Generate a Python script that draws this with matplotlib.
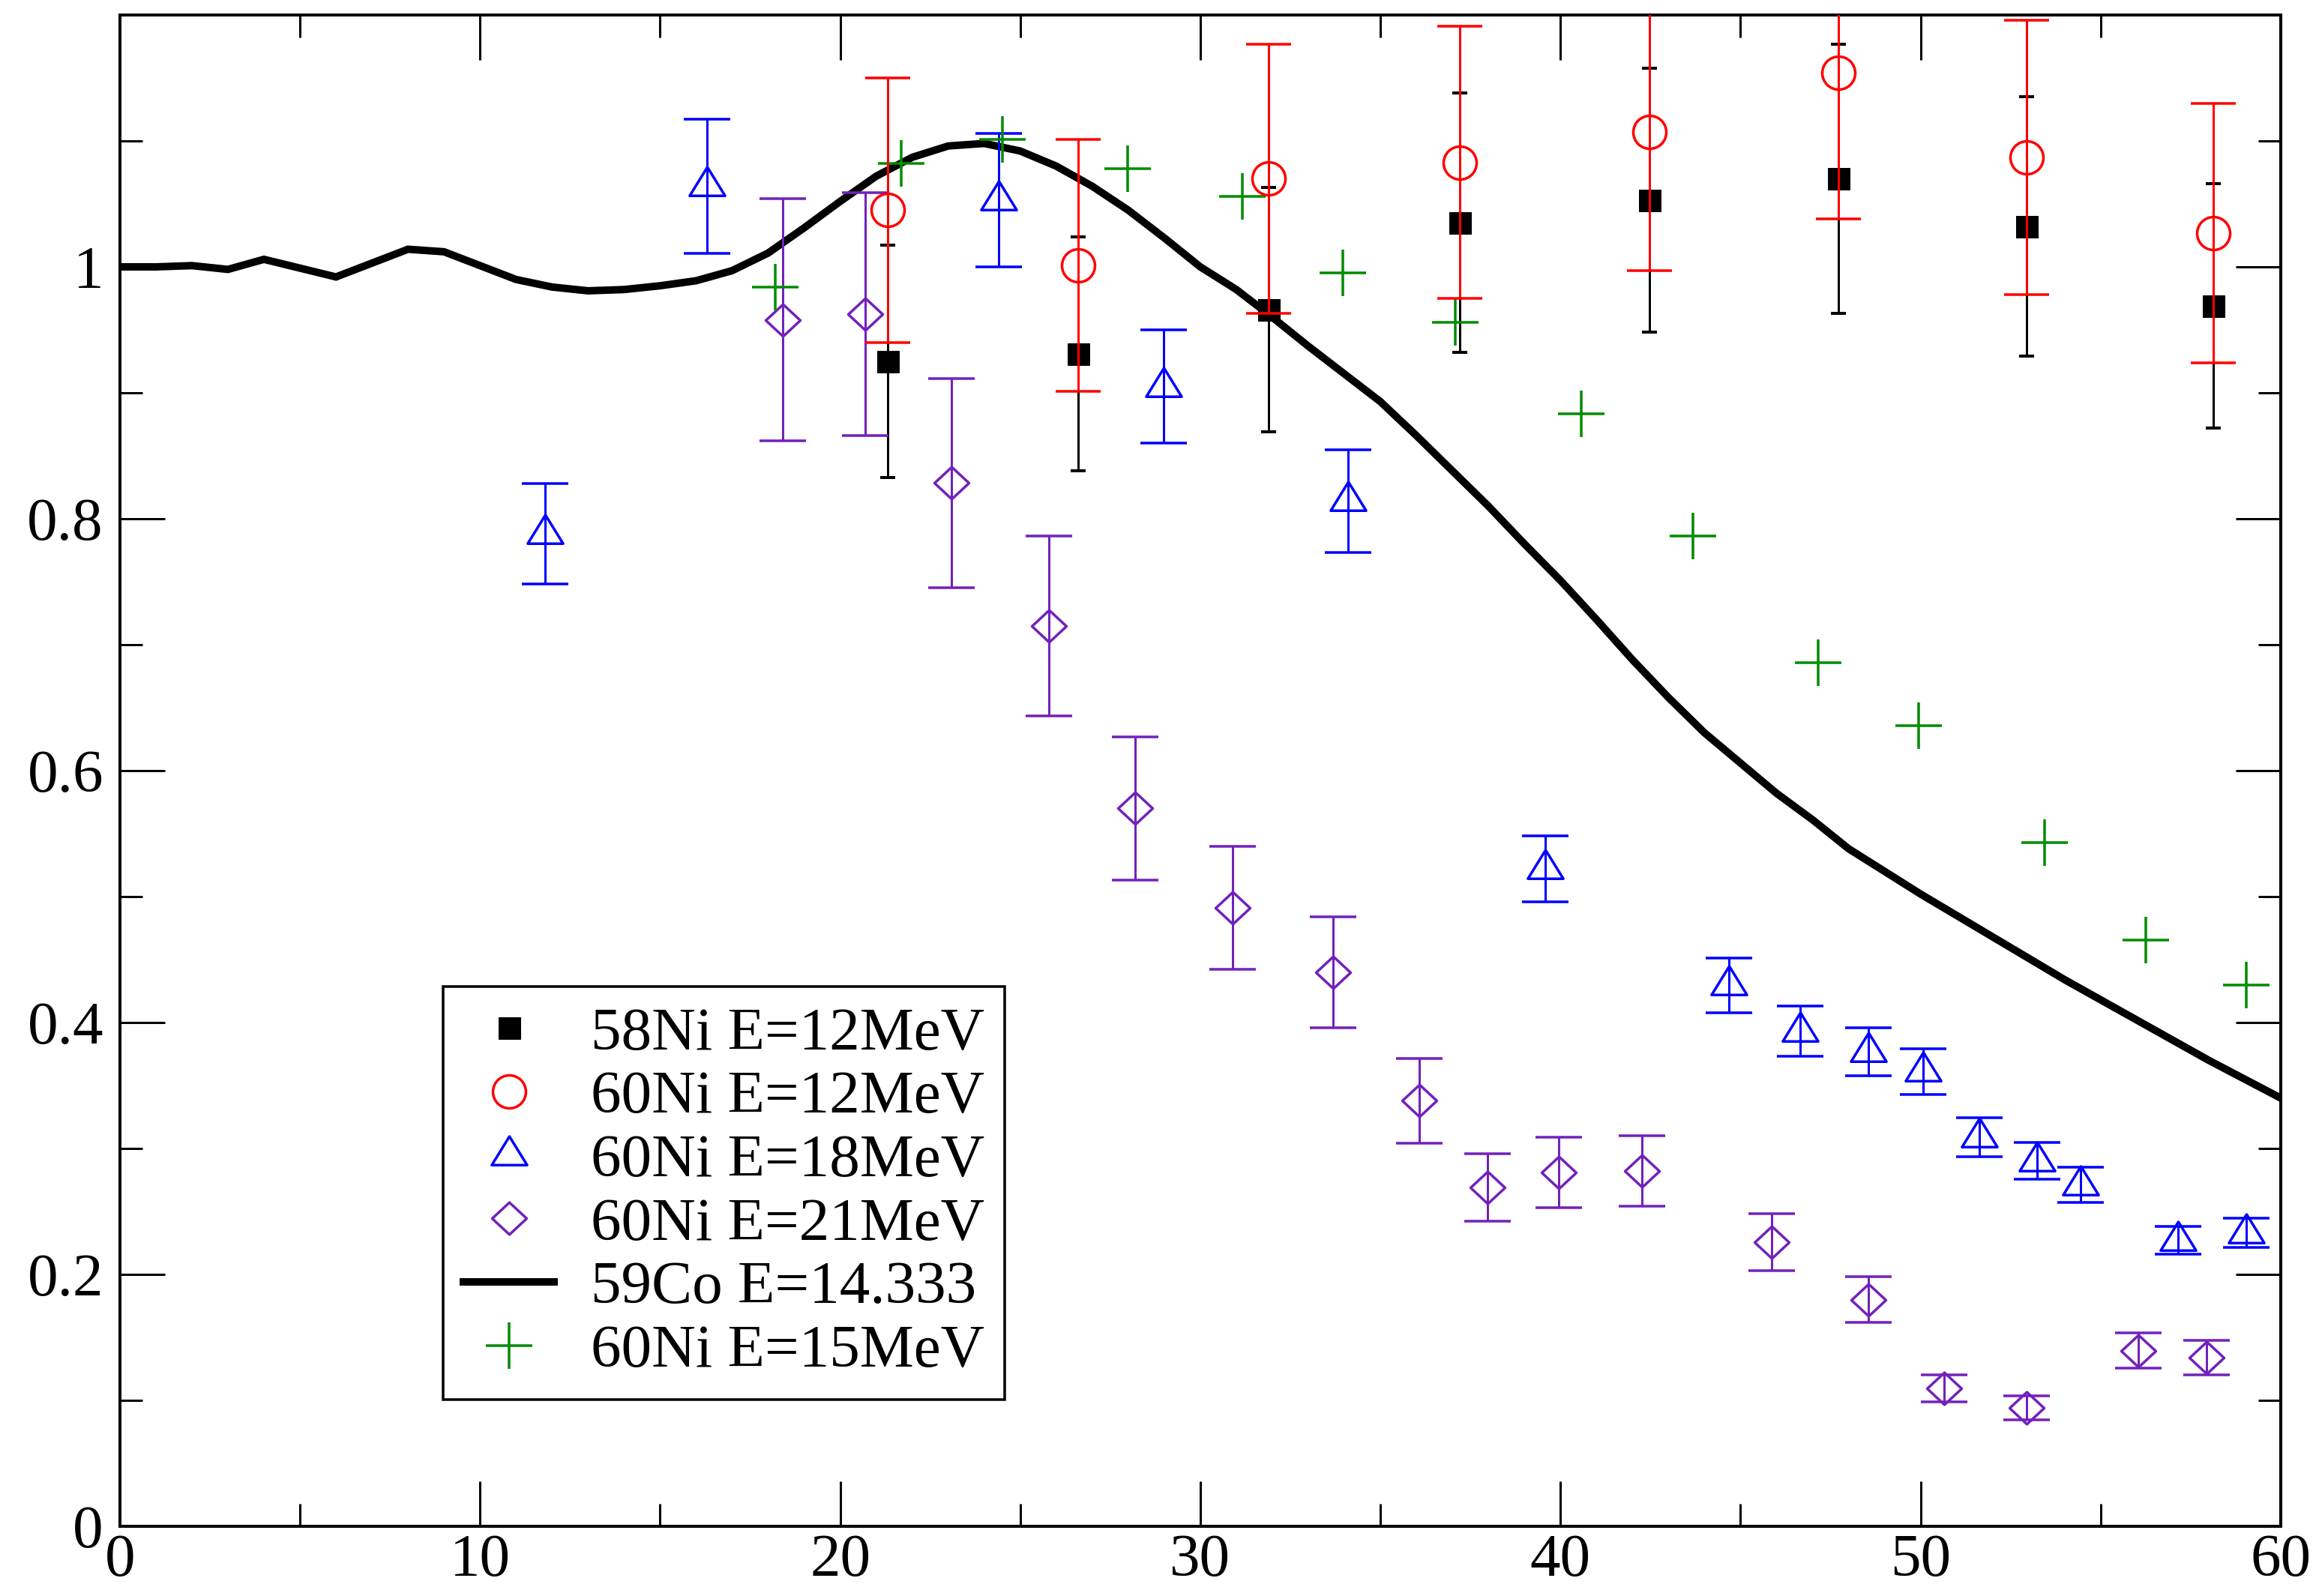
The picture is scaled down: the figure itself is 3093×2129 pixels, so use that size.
import matplotlib
matplotlib.use("Agg")
import matplotlib.pyplot as plt
from matplotlib.path import Path
from matplotlib.ticker import MultipleLocator

# 58Ni E=12MeV and 60Ni E=12MeV share the same angles
ni12_x = [21.33, 26.6, 31.9, 37.2, 42.47, 47.72, 52.94, 58.13]
ni58_y = [0.925, 0.931, 0.966, 1.035, 1.053, 1.070, 1.032, 0.969]
ni58_err = [0.092, 0.093, 0.097, 0.103, 0.105, 0.107, 0.103, 0.097]
ni60_12_y = [1.045, 1.001, 1.070, 1.083, 1.107, 1.154, 1.087, 1.027]
ni60_12_err = [0.105, 0.100, 0.107, 0.108, 0.110, 0.116, 0.109, 0.103]

ni60_18_x = [11.81, 16.3, 24.4, 28.98, 34.1, 39.57, 44.68, 46.66, 48.56,
             50.06, 51.64, 53.24, 54.44, 57.15, 59.05]
ni60_18_y = [0.788, 1.064, 1.053, 0.905, 0.814, 0.522, 0.4295, 0.393, 0.377,
             0.361, 0.309, 0.290, 0.271, 0.227, 0.233]
ni60_18_err = [0.040, 0.053, 0.053, 0.045, 0.041, 0.026, 0.0215, 0.020, 0.019,
               0.018, 0.0155, 0.0145, 0.014, 0.011, 0.0115]

ni60_21_x = [18.4, 20.69, 23.09, 25.79, 28.19, 30.89, 33.68, 36.07, 37.97,
             39.96, 42.27, 45.87, 48.56, 50.66, 52.94, 56.04, 57.94]
ni60_21_y = [0.958, 0.9625, 0.8285, 0.715, 0.570, 0.491, 0.440, 0.338, 0.269,
             0.281, 0.282, 0.2255, 0.180, 0.1095, 0.094, 0.1395, 0.134]
ni60_21_err = [0.096, 0.0965, 0.083, 0.0714, 0.057, 0.049, 0.044, 0.0336, 0.027,
               0.028, 0.028, 0.0225, 0.018, 0.011, 0.0095, 0.014, 0.0135]

ni60_15_x = [18.2, 21.7, 24.5, 27.98, 31.16, 33.96, 37.07, 40.57, 43.67,
             47.15, 49.95, 53.44, 56.25, 59.05]
ni60_15_y = [0.984, 1.082, 1.101, 1.078, 1.056, 0.995, 0.956, 0.8835, 0.7864,
             0.686, 0.6355, 0.543, 0.4654, 0.430]

co59_x = list(range(0, 61))
co59_y = [1.000, 1.000, 1.001, 0.998, 1.006, 0.999, 0.992, 1.003, 1.014, 1.012,
          1.001, 0.990, 0.984, 0.981, 0.982, 0.985, 0.989, 0.997, 1.011, 1.031,
          1.052, 1.072, 1.087, 1.096, 1.098, 1.092, 1.080, 1.064, 1.045, 1.023,
          1.000, 0.982, 0.960, 0.937, 0.915, 0.893, 0.866, 0.838, 0.810, 0.780,
          0.751, 0.720, 0.688, 0.658, 0.630, 0.606, 0.582, 0.561, 0.538, 0.520,
          0.502, 0.485, 0.468, 0.451, 0.434, 0.418, 0.402, 0.386, 0.370, 0.355,
          0.340]

RED = "#ff0000"
BLUE = "#0000ff"
PURPLE = "#7221bc"
GREEN = "#008b00"

# xmgrace-like symbols: triangle centred on its centroid, slightly flat diamond
tri = Path([(0, 1.08), (-1, -0.54), (1, -0.54), (0, 1.08)],
           [Path.MOVETO, Path.LINETO, Path.LINETO, Path.CLOSEPOLY])
dia = Path([(0, 0.93), (1, 0), (0, -0.93), (-1, 0), (0, 0.93)],
           [Path.MOVETO, Path.LINETO, Path.LINETO, Path.LINETO, Path.CLOSEPOLY])

plt.rcParams["font.family"] = ["Liberation Serif", "DejaVu Serif"]

fig = plt.figure(figsize=(3093 / 72, 2129 / 72), dpi=72)
ax = fig.add_axes([0.0517, 0.0437, 0.9318, 0.9469])

ax.plot(co59_x, co59_y, color="black", lw=10, solid_joinstyle="miter", zorder=2)

ax.errorbar(ni12_x, ni58_y, yerr=ni58_err, fmt="none", ecolor="black",
            elinewidth=3, capsize=10, capthick=4, zorder=3)
ax.errorbar(ni12_x, ni60_12_y, yerr=ni60_12_err, fmt="none", ecolor=RED,
            elinewidth=3, capsize=30, capthick=3.5, zorder=4)
ax.errorbar(ni60_18_x, ni60_18_y, yerr=ni60_18_err, fmt="none", ecolor=BLUE,
            elinewidth=3, capsize=31, capthick=3.5, zorder=3)
ax.errorbar(ni60_21_x, ni60_21_y, yerr=ni60_21_err, fmt="none", ecolor=PURPLE,
            elinewidth=3, capsize=31, capthick=3.5, zorder=3)

h1, = ax.plot(ni12_x, ni58_y, ls="none", marker="s", ms=29, color="black",
              label="58Ni E=12MeV", zorder=3)
h2, = ax.plot(ni12_x, ni60_12_y, ls="none", marker="o", ms=44, mfc="none",
              mec=RED, mew=3.5, label="60Ni E=12MeV", zorder=4)
h3, = ax.plot(ni60_18_x, ni60_18_y, ls="none", marker=tri, ms=51, mfc="none",
              mec=BLUE, mew=3.5, label="60Ni E=18MeV", zorder=3)
h4, = ax.plot(ni60_21_x, ni60_21_y, ls="none", marker=dia, ms=46, mfc="none",
              mec=PURPLE, mew=3.5, label="60Ni E=21MeV", zorder=3)
h5, = ax.plot([], [], color="black", lw=10, label="59Co E=14.333")
h6, = ax.plot(ni60_15_x, ni60_15_y, ls="none", marker="+", ms=62, mew=3.5,
              color=GREEN, label="60Ni E=15MeV", zorder=3)

ax.set_xlim(0, 60)
ax.set_ylim(0, 1.2)
ax.xaxis.set_major_locator(MultipleLocator(10))
ax.xaxis.set_minor_locator(MultipleLocator(5))
ax.yaxis.set_minor_locator(MultipleLocator(0.1))
ax.set_yticks([0, 0.2, 0.4, 0.6, 0.8, 1.0])
ax.set_yticklabels(["0", "0.2", "0.4", "0.6", "0.8", "1"])

ax.tick_params(which="both", direction="in", top=True, right=True,
               width=3, labelsize=81)
ax.tick_params(which="major", length=60)
ax.tick_params(which="minor", length=30)
ax.tick_params(axis="x", pad=10)
ax.tick_params(axis="y", pad=22)
for s in ax.spines.values():
    s.set_linewidth(4)

leg = ax.legend(handles=[h1, h2, h3, h4, h5, h6], loc="upper left",
                bbox_to_anchor=(0.1496, 0.357), borderaxespad=0, fontsize=81,
                frameon=True, fancybox=False, framealpha=1, edgecolor="black",
                handlelength=1.5, handletextpad=0.6, borderpad=0.33,
                labelspacing=0.135)
leg.get_frame().set_linewidth(3.5)

fig.savefig("out.png", dpi=72)
